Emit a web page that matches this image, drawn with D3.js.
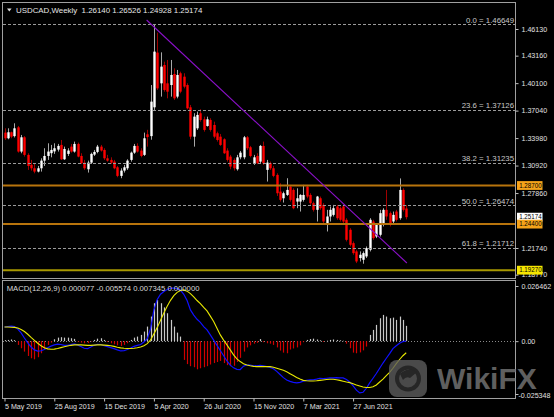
<!DOCTYPE html>
<html><head><meta charset="utf-8">
<script src="https://cdn.jsdelivr.net/npm/d3@7"></script>
<style>html,body{margin:0;padding:0;background:#000;overflow:hidden}text{font-family:"Liberation Sans",Arial,sans-serif}</style>
</head><body>
<svg id="c" width="554" height="417"></svg>
<script>
// ---------------- DATA ----------------
const symbolTitle = "USDCAD,Weekly";
const headerOHLC = ["1.26140", "1.26526", "1.24928", "1.25174"];
const openP = [1.3459,1.3396,1.3463,1.3420,1.3518,1.3248,1.3407,1.3211,1.3100,1.3062,
1.3025,1.3062,1.3147,1.3199,1.3230,1.3250,1.3270,1.3322,1.3162,1.3222,
1.3303,1.3248,1.3333,1.3199,1.3125,1.3051,1.3125,1.3214,1.3244,1.3303,
1.3266,1.3173,1.3155,1.3136,1.3073,1.2977,1.3036,1.3062,1.3155,1.3236,
1.3311,1.3259,1.3211,1.3440,1.3420,1.3741,1.4350,1.4008,1.4212,1.4008,
1.3989,1.4112,1.3860,1.4120,1.4082,1.3989,1.3741,1.3414,1.3507,1.3675,
1.3607,1.3533,1.3600,1.3544,1.3452,1.3414,1.3385,1.3259,1.3192,1.3155,
1.3051,1.3184,1.3184,1.3407,1.3296,1.3118,1.3199,1.3136,1.3311,1.3044,
1.3118,1.3062,1.2988,1.2802,1.2728,1.2765,1.2858,1.2821,1.2691,1.2691,
1.2710,1.2858,1.2765,1.2673,1.2599,1.2728,1.2654,1.2451,1.2525,1.2543,
1.2636,1.2617,1.2636,1.2488,1.2377,1.2228,1.2136,1.2062,1.2043,1.2080,
1.2154,1.2469,1.2302,1.2321,1.2451,1.2599,1.2562,1.2469,1.2580,1.2506,
1.2821,1.26140];
const highP = [1.3507,1.3507,1.3470,1.3563,1.3533,1.3433,1.3420,1.3229,1.3155,1.3110,
1.3088,1.3173,1.3285,1.3340,1.3322,1.3340,1.3333,1.3377,1.3303,1.3285,
1.3333,1.3359,1.3348,1.3229,1.3155,1.3147,1.3236,1.3266,1.3322,1.3322,
1.3285,1.3211,1.3184,1.3155,1.3088,1.3062,1.3099,1.3162,1.3248,1.3333,
1.3340,1.3285,1.3459,1.3490,1.3989,1.46649,1.4572,1.4353,1.4249,1.4268,
1.4268,1.4175,1.4157,1.4138,1.4120,1.4008,1.3767,1.3675,1.3693,1.3719,
1.3637,1.3637,1.3619,1.3581,1.3470,1.3444,1.3396,1.3285,1.3211,1.3173,
1.3211,1.3255,1.3422,1.3422,1.3311,1.3211,1.3229,1.3322,1.3359,1.3155,
1.3136,1.3088,1.3006,1.2895,1.2802,1.2951,1.2877,1.2839,1.2839,1.2773,
1.2877,1.2877,1.2784,1.2691,1.2754,1.2747,1.2673,1.2599,1.2636,1.2654,
1.2654,1.2636,1.2654,1.2506,1.2395,1.2247,1.2154,1.2136,1.2136,1.2191,
1.2506,1.2488,1.2451,1.2599,1.2617,1.2821,1.2580,1.2580,1.2599,1.2949,
1.2839,1.26526];
const lowP = [1.3377,1.3385,1.3396,1.3405,1.3236,1.3229,1.3192,1.3044,1.3036,1.3006,
1.3016,1.3025,1.3088,1.3155,1.3184,1.3222,1.3248,1.3155,1.3155,1.3199,
1.3236,1.3236,1.3184,1.3110,1.3044,1.3014,1.3110,1.3199,1.3229,1.3248,
1.3155,1.3136,1.3110,1.3051,1.2962,1.2951,1.3014,1.3044,1.3136,1.3222,
1.3236,1.3184,1.3199,1.3303,1.3380,1.3712,1.3934,1.3860,1.3915,1.3841,
1.3860,1.3823,1.3841,1.3897,1.3952,1.3719,1.3385,1.3303,1.3489,1.3581,
1.3470,1.3526,1.3470,1.3396,1.3359,1.3311,1.3222,1.3136,1.3051,1.3036,
1.3036,1.3162,1.3162,1.3266,1.3184,1.3099,1.3107,1.3118,1.3099,1.2914,
1.3044,1.2962,1.2754,1.2691,1.2680,1.2754,1.2691,1.2606,1.2617,1.2580,
1.2691,1.2728,1.2654,1.2580,1.2469,1.2599,1.2451,1.2358,1.2469,1.2525,
1.2488,1.2469,1.2451,1.2247,1.2191,1.2099,1.2006,1.2024,1.1999,1.2062,
1.2136,1.2265,1.2284,1.2302,1.2414,1.2488,1.2414,1.2451,1.2469,1.2488,
1.2580,1.24928];
const closeP = [1.3396,1.3463,1.3414,1.3507,1.3248,1.3407,1.3211,1.3088,1.3062,1.3025,
1.3062,1.3147,1.3199,1.3248,1.3266,1.3285,1.3311,1.3162,1.3277,1.3259,
1.3248,1.3333,1.3192,1.3118,1.3062,1.3125,1.3222,1.3244,1.3303,1.3259,
1.3173,1.3147,1.3125,1.3062,1.2977,1.3036,1.3073,1.3147,1.3236,1.3311,
1.3248,1.3199,1.3396,1.3410,1.3804,1.4361,1.3952,1.4194,1.3934,1.3915,
1.4101,1.3841,1.4101,1.3915,1.3971,1.3730,1.3414,1.3637,1.3656,1.3600,
1.3489,1.3607,1.3489,1.3414,1.3377,1.3322,1.3229,1.3155,1.3081,1.3062,
1.3184,1.3236,1.3407,1.3285,1.3199,1.3184,1.3118,1.3311,1.3118,1.3125,
1.3062,1.2977,1.2784,1.2710,1.2784,1.2821,1.2710,1.2617,1.2728,1.2765,
1.2765,1.2747,1.2673,1.2599,1.2747,1.2617,1.2469,1.2525,1.2599,1.2617,
1.2506,1.2488,1.2469,1.2265,1.2210,1.2117,1.2024,1.2099,1.2117,1.2173,
1.2488,1.2284,1.2432,1.2562,1.2599,1.2525,1.2451,1.2543,1.2488,1.2821,
1.2599,1.25174];

const macdMain = [0.0068,0.0070,0.0072,0.0070,0.0058,0.0040,0.0015,-0.0008,-0.0028,-0.0042,
-0.0048,-0.0046,-0.0040,-0.0032,-0.0024,-0.0018,-0.0014,-0.0016,-0.0020,-0.0020,
-0.0017,-0.0013,-0.0018,-0.0026,-0.0034,-0.0036,-0.0028,-0.0020,-0.0015,-0.0016,
-0.0022,-0.0026,-0.0031,-0.0036,-0.0042,-0.0047,-0.0046,-0.0040,-0.0033,-0.0025,
-0.0020,-0.0016,-0.0004,0.0012,0.0060,0.0150,0.0200,0.0225,0.0238,0.0248,
0.0254,0.0255,0.0252,0.0245,0.0225,0.0195,0.0150,0.0125,0.0105,0.0090,
0.0070,0.0054,0.0030,0.0005,-0.0020,-0.0045,-0.0070,-0.0095,-0.0115,-0.0128,
-0.0135,-0.0136,-0.0120,-0.0114,-0.0115,-0.0118,-0.0118,-0.0116,-0.0118,-0.0122,
-0.0126,-0.0132,-0.0145,-0.0160,-0.0175,-0.0186,-0.0193,-0.0198,-0.0200,-0.0198,
-0.0192,-0.0188,-0.0186,-0.0185,-0.0182,-0.0178,-0.0180,-0.0178,-0.0176,-0.0176,
-0.0175,-0.0176,-0.0176,-0.0184,-0.0196,-0.0215,-0.0235,-0.0248,-0.0245,-0.0226,
-0.0200,-0.0178,-0.0155,-0.0130,-0.0105,-0.0082,-0.0060,-0.0036,-0.0022,-0.0010,
-0.0002,0.000077];
const macdSignal = [0.0068,0.0068,0.0067,0.0066,0.0063,0.0056,0.0046,0.0033,0.0018,0.0004,
-0.0010,-0.0022,-0.0032,-0.0037,-0.0039,-0.0038,-0.0035,-0.0031,-0.0027,-0.0023,
-0.0020,-0.0018,-0.0017,-0.0018,-0.0019,-0.0020,-0.0020,-0.0019,-0.0018,-0.0018,
-0.0019,-0.0020,-0.0022,-0.0025,-0.0029,-0.0032,-0.0034,-0.0035,-0.0035,-0.0034,
-0.0032,-0.0028,-0.0022,-0.0012,0.0006,0.0035,0.0065,0.0100,0.0135,0.0168,
0.0196,0.0218,0.0234,0.0243,0.0246,0.0240,0.0228,0.0212,0.0195,0.0180,
0.0162,0.0145,0.0120,0.0094,0.0062,0.0030,0.0005,-0.0018,-0.0042,-0.0066,
-0.0085,-0.0098,-0.0108,-0.0114,-0.0118,-0.0121,-0.0122,-0.0122,-0.0122,-0.0122,
-0.0122,-0.0125,-0.0130,-0.0135,-0.0140,-0.0147,-0.0156,-0.0165,-0.0174,-0.0182,
-0.0188,-0.0190,-0.0191,-0.0191,-0.0190,-0.0188,-0.0186,-0.0184,-0.0183,-0.0183,
-0.0185,-0.0188,-0.0192,-0.0196,-0.0199,-0.0204,-0.0210,-0.0215,-0.0220,-0.0222,
-0.0222,-0.0219,-0.0210,-0.0196,-0.0182,-0.0165,-0.0150,-0.0130,-0.0108,-0.0088,
-0.0070,-0.005574];
const macdHist = [0.0005,0.0006,0.0008,0.0005,-0.0018,-0.0034,-0.0050,-0.0071,-0.0082,-0.0087,
-0.0077,-0.0058,-0.0039,-0.0018,-0.0007,0.0009,0.0017,0.0019,0.0017,0.0017,
0.0014,0.0011,-0.0004,-0.0007,-0.0010,-0.0009,-0.0002,0.0006,0.0012,0.0014,
0.0006,-0.0004,-0.0010,-0.0015,-0.0020,-0.0023,-0.0018,-0.0010,0.0006,0.0017,
0.0022,0.0030,0.0046,0.0070,0.0118,0.0182,0.0198,0.0182,0.0162,0.0134,
0.0102,0.0070,0.0041,0.0022,-0.0090,-0.0110,-0.0120,-0.0125,-0.0135,-0.0130,
-0.0125,-0.0120,-0.0112,-0.0105,-0.0100,-0.0095,-0.0105,-0.0115,-0.0120,-0.0118,
-0.0100,-0.0080,-0.0050,-0.0030,-0.0020,-0.0012,-0.0008,0.0010,-0.0005,-0.0010,
-0.0012,-0.0018,-0.0030,-0.0045,-0.0055,-0.0058,-0.0040,-0.0035,-0.0030,-0.0020,
-0.0005,0.0006,0.0010,0.0012,0.0008,0.0004,-0.0004,0.0002,0.0006,0.0008,
0.0006,0.0004,0.0002,-0.0012,-0.0034,-0.0055,-0.0058,-0.0054,-0.0044,-0.0026,
0.0030,0.0054,0.0078,0.0110,0.0126,0.0118,0.0110,0.0113,0.0102,0.0118,
0.0102,0.007345];
const macdHeader = "MACD(12,26,9) 0.000077 -0.005574 0.007345 0.000000";

const priceTicks = [1.46130, 1.43160, 1.40100, 1.37040, 1.33980, 1.30920, 1.27860, 1.21740, 1.18770];
const macdTicks = [0.026462, 0.0, -0.025348];
const macdTickLabels = ["0.026462", "0.00", "-0.025348"];
const dateTickIdx = [0, 15, 30, 45, 60, 75, 90, 105];
const dateTickLabels = ["5 May 2019", "25 Aug 2019", "15 Dec 2019", "5 Apr 2020", "26 Jul 2020", "15 Nov 2020", "7 Mar 2021", "27 Jun 2021"];
const fibLevels = ["0.0", "23.6", "38.2", "50.0", "61.8"];
const fibPrices = [1.46649, 1.37126, 1.31235, 1.26474, 1.21712];
const orangeLevels = [1.28700, 1.24400];
const yellowLevels = [1.19270];
const lastPrice = 1.25174;
const trendIdx = [42.8, 121.2];
const trendPrice = [1.4713, 1.2007];

// ---------------- LAYOUT ----------------
const L = 3, R = 515, mainTop = 3, mainBot = 278, macdTop = 280, macdBot = 398;
const N = closeP.length;
const svg = d3.select("#c");
svg.append("rect").attr("width", 554).attr("height", 417).attr("fill", "#000");

const x = d3.scaleLinear().domain([0, 121]).range([4.5, 4.5 + 121 * 3.32]);
const y = d3.scaleLinear().domain([1.18399, 1.49026]).range([mainBot, mainTop]);
const ym = d3.scaleLinear().domain([-0.025348, 0.026462]).range([394, 286]);

const defs = svg.append("defs");
defs.append("clipPath").attr("id", "cm").append("rect").attr("x", L).attr("y", mainTop).attr("width", R - L).attr("height", mainBot - mainTop);
defs.append("clipPath").attr("id", "cd").append("rect").attr("x", L).attr("y", macdTop).attr("width", R - L).attr("height", macdBot - macdTop);

const gm = svg.append("g").attr("clip-path", "url(#cm)");

// candles
const bars = d3.range(N).map(i => ({ i, o: openP[i], h: highP[i], l: lowP[i], c: closeP[i] }));
gm.selectAll("line.wick").data(bars).join("line").attr("class", "wick")
  .attr("x1", d => Math.round(x(d.i)) + 0.5).attr("x2", d => Math.round(x(d.i)) + 0.5)
  .attr("y1", d => y(d.h)).attr("y2", d => y(d.l))
  .attr("stroke", d => d.c >= d.o ? "#a8a8a8" : "#a00000").attr("stroke-width", 1);
gm.selectAll("rect.body").data(bars).join("rect").attr("class", "body")
  .attr("x", d => Math.round(x(d.i)) - 0.7).attr("width", 2.4)
  .attr("y", d => y(Math.max(d.o, d.c)))
  .attr("height", d => Math.max(1, Math.abs(y(d.o) - y(d.c))))
  .attr("fill", d => d.c >= d.o ? "#ffffff" : "#ff0000");

// fibo
fibPrices.forEach((p, k) => {
  gm.append("line").attr("x1", L).attr("x2", R).attr("y1", Math.round(y(p)) + 0.5).attr("y2", Math.round(y(p)) + 0.5)
    .attr("stroke", "#9a9a9a").attr("stroke-dasharray", "3,2").attr("stroke-width", 1);
  svg.append("text").attr("x", 514).attr("y", y(p) - 1.8).attr("text-anchor", "end")
    .attr("font-size", 7.8).attr("fill", "#c8c8c8").text(fibLevels[k] + " = " + p.toFixed(5));
});

// horizontal levels
orangeLevels.forEach(p => gm.append("line").attr("x1", L).attr("x2", R).attr("y1", y(p)).attr("y2", y(p))
  .attr("stroke", "#b8740c").attr("stroke-width", 2));
yellowLevels.forEach(p => gm.append("line").attr("x1", L).attr("x2", R).attr("y1", y(p)).attr("y2", y(p))
  .attr("stroke", "#a89800").attr("stroke-width", 2));

// trendline
gm.append("line").attr("x1", x(trendIdx[0])).attr("y1", y(trendPrice[0]))
  .attr("x2", x(trendIdx[1])).attr("y2", y(trendPrice[1]))
  .attr("stroke", "#8a10c8").attr("stroke-width", 1.1);

// ---------------- MACD ----------------
const gd = svg.append("g").attr("clip-path", "url(#cd)");
gd.append("line").attr("x1", L).attr("x2", R).attr("y1", Math.round(ym(0)) + 0.5).attr("y2", Math.round(ym(0)) + 0.5)
  .attr("stroke", "#8a8a8a").attr("stroke-dasharray", "1,2");
gd.selectAll("line.h").data(macdHist).join("line").attr("class", "h")
  .attr("x1", (d, i) => Math.round(x(i)) + 0.5).attr("x2", (d, i) => Math.round(x(i)) + 0.5)
  .attr("y1", ym(0)).attr("y2", d => ym(d))
  .attr("stroke", d => d >= 0 ? "#c8c8c8" : "#d00000").attr("stroke-width", 1.2);
const ln = vals => d3.line().x((d, i) => x(i)).y(d => ym(d))(vals);
gd.append("path").attr("d", ln(macdMain)).attr("fill", "none").attr("stroke", "#1010ff").attr("stroke-width", 1.2);
gd.append("path").attr("d", ln(macdSignal)).attr("fill", "none").attr("stroke", "#e8e800").attr("stroke-width", 1.1);

// ---------------- FRAMES ----------------
const fc = "#a0a0a0";
svg.append("rect").attr("x", L - 0.5).attr("y", mainTop - 0.5).attr("width", R - L + 1).attr("height", mainBot - mainTop + 1)
  .attr("fill", "none").attr("stroke", fc);
svg.append("rect").attr("x", L - 0.5).attr("y", macdTop + 0.5).attr("width", R - L + 1).attr("height", macdBot - macdTop)
  .attr("fill", "none").attr("stroke", fc);

// ---------------- AXES ----------------
const axP = d3.axisRight(y).tickValues(priceTicks).tickFormat(d3.format(".5f")).tickSize(3).tickPadding(3);
const ga = svg.append("g").attr("transform", `translate(${R + 0.5},0)`).call(axP);
const axM = d3.axisRight(ym).tickValues(macdTicks).tickFormat((d, i) => macdTickLabels[i]).tickSize(3).tickPadding(3);
const gb = svg.append("g").attr("transform", `translate(${R + 0.5},0)`).call(axM);
const axD = d3.axisBottom(x).tickValues(dateTickIdx).tickFormat((d, i) => dateTickLabels[i]).tickSize(3).tickPadding(2);
const gc = svg.append("g").attr("transform", `translate(0,${macdBot + 0.5})`).call(axD);
gc.selectAll(".tick text").attr("text-anchor", "start").attr("x", 0);
[ga, gb, gc].forEach(g => {
  g.select(".domain").remove();
  g.selectAll(".tick line").attr("stroke", "#c0c0c0");
  g.selectAll(".tick text").attr("fill", "#e0e0e0").attr("font-size", 7.1).attr("font-family", "Liberation Sans, Arial, sans-serif");
});
gb.selectAll(".tick text").filter((d, i) => i === 2).attr("x", 3).attr("dy", "0.45em");

// price label boxes
const boxes = [
  { p: orangeLevels[0], bg: "#f5a31a" },
  { p: lastPrice, bg: "#ffffff" },
  { p: orangeLevels[1], bg: "#f5a31a" },
  { p: yellowLevels[0], bg: "#f5e500" }
];
boxes.forEach(b => {
  svg.append("rect").attr("x", 517).attr("y", y(b.p) - 4.4).attr("width", 25.5).attr("height", 8.8).attr("fill", b.bg);
  svg.append("text").attr("x", 519.2).attr("y", y(b.p)).attr("dy", "0.33em").attr("font-size", 6.8)
    .attr("textLength", 22.4).attr("lengthAdjust", "spacingAndGlyphs")
    .attr("fill", "#000").text(b.p.toFixed(5));
});

// ---------------- TEXTS ----------------
svg.append("path").attr("d", "M7,8.5 L11.6,8.5 L9.3,11.6 Z").attr("fill", "#e0e0e0");
svg.append("text").attr("x", 16).attr("y", 12.5).attr("font-size", 7.9).attr("fill", "#e6e6e6")
  .attr("xml:space", "preserve").text(symbolTitle + "  " + headerOHLC.join(" "));
svg.append("text").attr("x", 6.7).attr("y", 290.5).attr("font-size", 7.7).attr("fill", "#d8d8d8").text(macdHeader);

// watermark
const wm = svg.append("g");
wm.append("rect").attr("x", 389).attr("y", 360).attr("width", 38).attr("height", 37).attr("rx", 8).attr("fill", "#5c5c5c").attr("opacity", 0.8);
wm.append("circle").attr("cx", 408).attr("cy", 378.5).attr("r", 11).attr("fill", "none").attr("stroke", "#262626").attr("stroke-width", 4);
wm.append("path").attr("d", "M400,374 Q408,366 417,372 L410,378 Q406,376 403,380 Z").attr("fill", "#262626");
wm.append("text").attr("x", 437).attr("y", 388.5).attr("font-size", 30).attr("font-weight", "bold")
  .attr("fill", "#707070").attr("opacity", 0.85).text("WikiFX");
</script>
</body></html>
